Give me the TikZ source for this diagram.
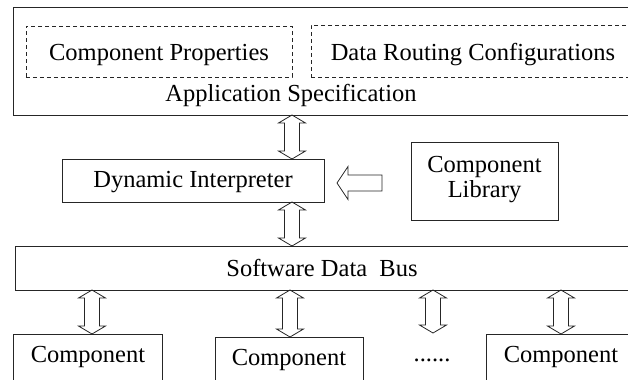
\documentclass[tikz,border=0pt]{standalone}
\usepackage{fontspec}
\setmainfont{Liberation Serif}
\usetikzlibrary{calc}
\tikzset{
  box/.style={draw=black!85, line width=0.8bp, rectangle, inner sep=0pt, outer sep=0pt},
  dbox/.style={box, dash pattern=on 4bp off 3bp},
  txt/.style={anchor=base, inner sep=0pt, font=\fontsize{24.5bp}{26bp}\selectfont},
  % hollow double-headed vertical arrow from an upper to a lower point
  dblarrow/.style={draw=black!85, line width=0.8bp, line join=miter,
    to path={let \p1=(\tikztostart), \p2=(\tikztotarget) in
      (\x1,\y1) -- (\x1+13.5bp,\y1-8bp) -- (\x1+7.5bp,\y1-8bp)
      -- (\x1+7.5bp,\y2+8bp) -- (\x1+13.5bp,\y2+8bp) -- (\x1,\y2)
      -- (\x1-13.5bp,\y2+8bp) -- (\x1-7.5bp,\y2+8bp)
      -- (\x1-7.5bp,\y1-8bp) -- (\x1-13.5bp,\y1-8bp) -- cycle}},
  % hollow single arrow pointing left, from tail to tip
  leftarrow/.style={draw=black!85, line width=0.8bp, line join=miter,
    to path={let \p1=(\tikztostart), \p2=(\tikztotarget) in
      (\x2,\y2) -- (\x2+11bp,\y2+16.5bp) -- (\x2+11bp,\y2+8bp)
      -- (\x1,\y2+8bp) -- (\x1,\y2-8bp) -- (\x2+11bp,\y2-8bp)
      -- (\x2+11bp,\y2-16.5bp) -- cycle}}
}
\begin{document}
\begin{tikzpicture}[x=1bp,y=-1bp]
\useasboundingbox (0,0) rectangle (628,379);
\clip (0,0) rectangle (628,379);
\fill[white] (0,0) rectangle (628,379);

% application specification
\node[box, minimum width=627bp, minimum height=108bp] (app) at (326.5,61) {};
\node[dbox, minimum width=266bp, minimum height=51bp] (cp) at (159,51.5) {};
\node[dbox, minimum width=324bp, minimum height=52bp] (drc) at (473,51) {};
\node[txt] (cpt) at (159,60) {Component Properties};
\node[txt] (drct) at (473,60) {Data Routing Configurations};
\node[txt] (appt) at (291,101) {Application Specification};

% interpreter and library
\node[box, minimum width=262bp, minimum height=43bp] (di) at (193,180.5) {};
\node[txt] (dit) at (193,187) {Dynamic Interpreter};
\node[box, minimum width=147bp, minimum height=78bp] (cl) at (484.5,181) {};
\node[txt] (clt1) at (484.5,172) {Component};
\node[txt] (clt2) at (484.5,197) {Library};

% data bus
\node[box, minimum width=625bp, minimum height=44bp] (bus) at (327.5,268) {};
\node[txt] (bust) at (322,276) {Software Data\ \ Bus};

% components
\node[box, minimum width=149bp, minimum height=61bp] (c1) at (87.5,364.5) {};
\node[box, minimum width=148bp, minimum height=58bp] (c2) at (289,366) {};
\node[box, minimum width=154bp, minimum height=61bp] (c3) at (563,364.5) {};
\node[txt] (c1t) at (88,362) {Component};
\node[txt] (c2t) at (289,365) {Component};
\node[txt] (c3t) at (561,362) {Component};
\node[txt] (dots) at (432,361) {......};

% arrow axes
\coordinate (xa) at (292,0);
\coordinate (x1) at (92,0);
\coordinate (x2) at (290,0);
\coordinate (x3) at (433,0);
\coordinate (x4) at (561,0);
\coordinate (free) at (433,333);
\coordinate (libtail) at (382,183);
\coordinate (libtip) at (337,183);

% connectors
\draw[dblarrow] (app.south -| xa) to (di.north -| xa);
\draw[dblarrow] (di.south -| xa) to (bus.north -| xa);
\draw[dblarrow] (bus.south -| x1) to (c1.north -| x1);
\draw[dblarrow] (bus.south -| x2) to (c2.north -| x2);
\draw[dblarrow] (bus.south -| x3) to (free);
\draw[dblarrow] (bus.south -| x4) to (c3.north -| x4);
\draw[leftarrow] (libtail) to (libtip);
\end{tikzpicture}
\end{document}
